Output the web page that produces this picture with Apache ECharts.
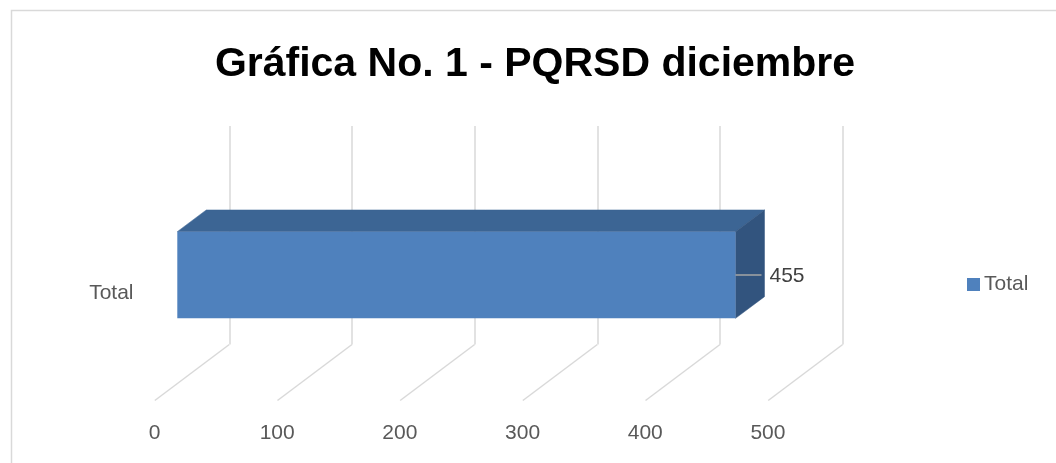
<!DOCTYPE html>
<html><head><meta charset="utf-8">
<script src="https://cdn.jsdelivr.net/npm/echarts@6/dist/echarts.min.js"></script>
<style>html,body{margin:0;padding:0;background:#fff}#c{width:1056px;height:463px}</style>
</head><body><div id="c"></div>
<script>
const titleText = 'Gráfica No. 1 - PQRSD diciembre';
const categories = ['Total'];
const seriesName = 'Total';
const values = [455];
const tickValues = [0, 100, 200, 300, 400, 500];

const FONT = "'Liberation Sans',sans-serif";
const chart = echarts.init(document.getElementById('c'), null, {renderer: 'canvas'});

const DX = -74.5, DY = 56; // floor depth direction
chart.setOption({
  backgroundColor: '#fff',
  animation: false,
  title: {
    text: titleText, left: 530, top: 39, textAlign: 'center',
    textStyle: {fontFamily: FONT, fontWeight: 'bold', fontSize: 41, color: '#000'}
  },
  legend: {
    data: [{name: seriesName, icon: 'rect', itemStyle: {color: '#4F81BD'}}],
    left: 962, top: 269, itemWidth: 13, itemHeight: 13, itemGap: 6,
    textStyle: {fontFamily: FONT, fontSize: 21, color: '#595959', padding: [0, 0, 0, -1]}
  },
  graphic: [{type: 'rect', shape: {x: 11.5, y: 10.5, width: 1060, height: 470}, style: {fill: 'none', stroke: '#d9d9d9', lineWidth: 1.5}, silent: true}],
  grid: [
    {left: 229.3, right: 213.3, top: 126, bottom: 118.5},
    {left: 154.5, width: 613.4, top: 185, bottom: 62}
  ],
  xAxis: [
    {gridIndex: 0, type: 'value', min: 0, max: 500, interval: 100,
     axisLine: {show: false}, axisTick: {show: false}, axisLabel: {show: false},
     splitLine: {show: true, lineStyle: {color: '#d9d9d9', width: 1.5}}},
    {gridIndex: 1, type: 'value', min: 0, max: 500, interval: 100,
     axisLine: {show: false}, axisTick: {show: false}, splitLine: {show: false},
     axisLabel: {margin: 22, fontFamily: FONT, fontSize: 21, color: '#595959'}}
  ],
  yAxis: [
    {gridIndex: 0, type: 'category', data: categories, show: false},
    {gridIndex: 1, type: 'category', data: categories,
     axisLine: {show: false}, axisTick: {show: false}, splitLine: {show: false},
     axisLabel: {margin: 21, fontFamily: FONT, fontSize: 21, color: '#595959'}}
  ],
  series: [
    {
      type: 'custom', name: 'floor', xAxisIndex: 0, yAxisIndex: 0, silent: true,
      data: tickValues.map(v => [v, 0]),
      renderItem: function (params, api) {
        const cs = params.coordSys;
        const x = api.coord([api.value(0), 0])[0];
        const y = cs.y + cs.height;
        return {type: 'line', shape: {x1: x, y1: y, x2: x + DX, y2: y + DY},
                style: {stroke: '#d9d9d9', lineWidth: 1.5}};
      }
    },
    {
      type: 'custom', name: seriesName, xAxisIndex: 0, yAxisIndex: 0,
      data: values.map((v, i) => [v, i]),
      renderItem: function (params, api) {
        const p0 = api.coord([0, api.value(1)]);
        const p1 = api.coord([api.value(0), api.value(1)]);
        const cy = p0[1];
        const bx0 = p0[0] - 23, bx1 = p1[0] - 23;   // back face x
        const bt = cy - 25.3, bb = cy + 61.4;        // back face y
        const ox = -29, oy = 21.7;                   // back -> front
        const fx0 = bx0 + ox, fx1 = bx1 + ox, ft = bt + oy, fb = bb + oy;
        const midY = (ft + fb) / 2;
        return {type: 'group', children: [
          {type: 'polygon', shape: {points: [[fx0, ft], [bx0, bt], [bx1, bt], [fx1, ft]]},
           style: {fill: '#3C6594', stroke: '#3C6594', lineWidth: 0.5}},
          {type: 'polygon', shape: {points: [[fx1, ft], [bx1, bt], [bx1, bb], [fx1, fb]]},
           style: {fill: '#32547E', stroke: '#32547E', lineWidth: 0.5}},
          {type: 'rect', shape: {x: fx0, y: ft, width: fx1 - fx0, height: fb - ft},
           style: {fill: '#4F81BD'}},
          {type: 'line', shape: {x1: fx1, y1: midY, x2: fx1 + 26, y2: midY},
           style: {stroke: '#a6a6a6', lineWidth: 1.5}},
          {type: 'text', x: fx1 + 34, y: midY + 1.5,
           style: {text: String(api.value(0)), fontFamily: FONT, fontSize: 21, fill: '#404040',
                   verticalAlign: 'middle', align: 'left'}}
        ]};
      }
    }
  ]
});
</script></body></html>
